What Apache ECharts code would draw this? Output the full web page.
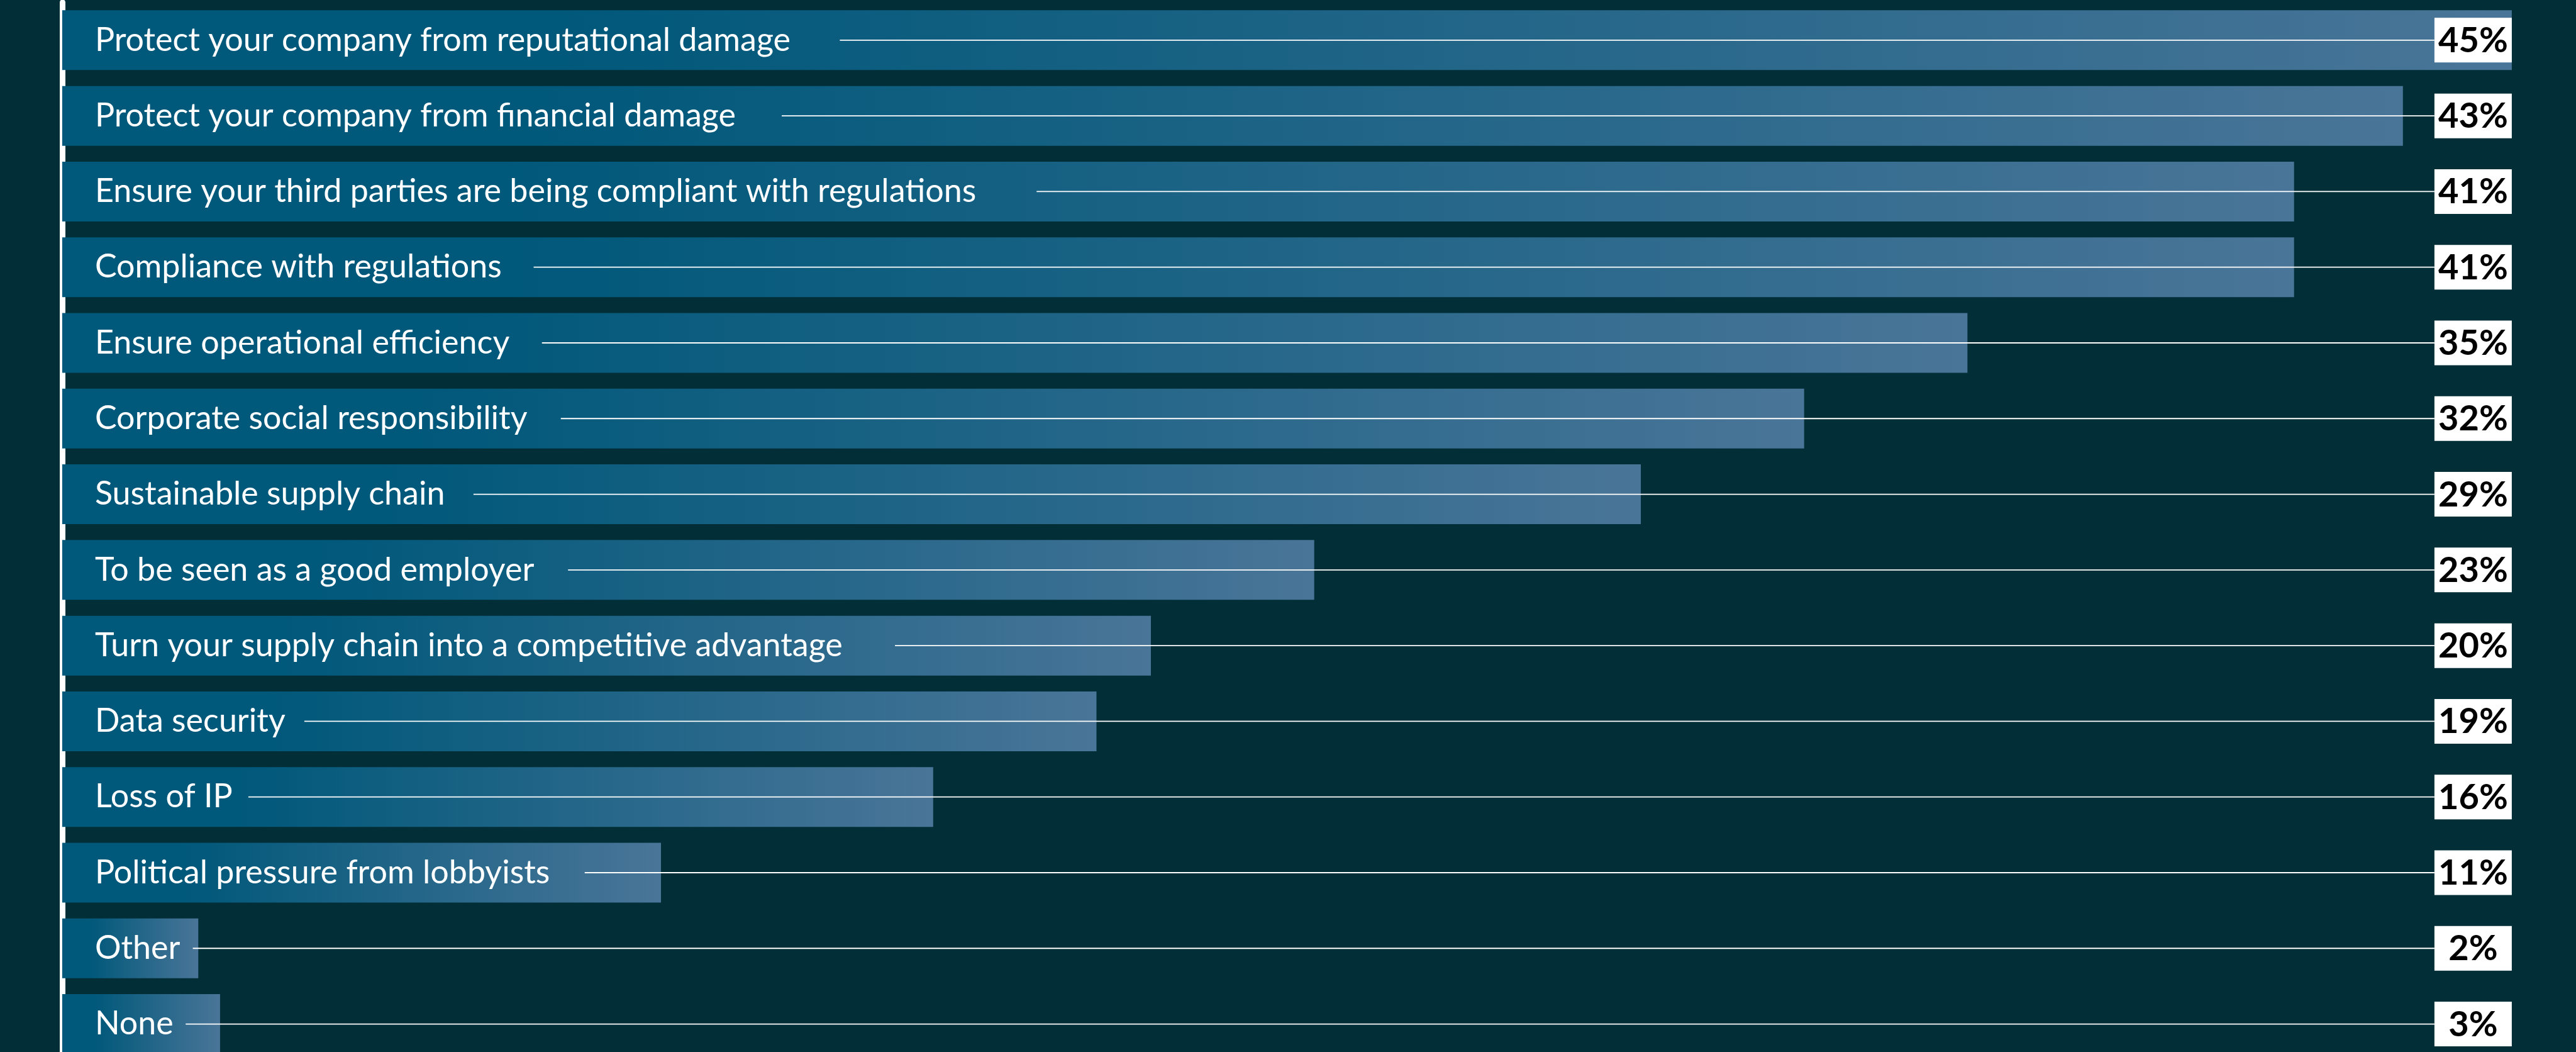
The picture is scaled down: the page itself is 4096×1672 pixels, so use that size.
<!DOCTYPE html>
<html>
<head>
<meta charset="utf-8">
<script src="https://cdn.jsdelivr.net/npm/echarts@6/dist/echarts.min.js"></script>
<style>
  html, body { margin: 0; padding: 0; background: #022e37; }
  #main { width: 4096px; height: 1672px; }
</style>
</head>
<body>
<div id="main"></div>
<script>
// Survey answers, top to bottom
var categories = [
    'Protect your company from reputational damage',
    'Protect your company from financial damage',
    'Ensure your third parties are being compliant with regulations',
    'Compliance with regulations',
    'Ensure operational efficiency',
    'Corporate social responsibility',
    'Sustainable supply chain',
    'To be seen as a good employer',
    'Turn your supply chain into a competitive advantage',
    'Data security',
    'Loss of IP',
    'Political pressure from lobbyists',
    'Other',
    'None'
];
// bar lengths (the small ones are not whole numbers)
var shares = [45, 43, 41, 41, 35, 32, 29, 23, 20, 19, 16, 11, 2.5, 2.9];
// printed values in the white boxes
var shareLabels = ['45%', '43%', '41%', '41%', '35%', '32%', '29%', '23%', '20%', '19%', '16%', '11%', '2%', '3%'];
var xMax = 45;

var chartDom = document.getElementById('main');
var myChart = echarts.init(chartDom);
var option;

const nameFont = '52px Lato';
const nameGap = 52;      // text starts this far into the bar
const boxW = 123;
const boxH = 71;

// measure the category text so the leader line starts just after it
var measureCtx = document.createElement('canvas').getContext('2d');
measureCtx.font = nameFont;
function textWidth(s) {
    return measureCtx.measureText(s).width;
}

function renderLeader(params, api) {
    var i = params.dataIndex;
    var zero = api.coord([0, i]);
    var end = api.coord([xMax, i]);
    var y = end[1];
    var x1 = zero[0] + nameGap + textWidth(categories[i]) * 1.06 + 12;
    return {
        type: 'group',
        children: [
            {
                type: 'line',
                shape: { x1: x1, y1: y, x2: end[0] - boxW, y2: y },
                style: { stroke: '#ffffff', lineWidth: 1.8 }
            },
            {
                type: 'rect',
                shape: { x: end[0] - boxW, y: y - boxH / 2, width: boxW, height: boxH },
                style: { fill: '#ffffff' }
            },
            {
                type: 'text',
                x: end[0] - boxW / 2,
                y: y + 1,
                style: {
                    text: shareLabels[i],
                    fill: '#000000',
                    font: 'bold 56px Lato',
                    align: 'center',
                    verticalAlign: 'middle'
                }
            }
        ]
    };
}

option = {
    backgroundColor: '#022e37',
    animation: false,
    grid: {
        left: 98.9,
        top: 3.7,
        width: 3895,
        height: 1684,
        outerBoundsMode: 'none'   // last row runs past the bottom edge
    },
    xAxis: {
        type: 'value',
        min: 0,
        max: xMax,
        show: false
    },
    yAxis: {
        type: 'category',
        data: categories,
        inverse: true,
        offset: 5.4,
        axisLine: { show: true, lineStyle: { color: '#ffffff', width: 9 } },
        axisTick: { show: false },
        axisLabel: { show: false }
    },
    series: [
        {
            type: 'bar',
            data: shares,
            barWidth: 95,
            itemStyle: {
                color: new echarts.graphic.LinearGradient(0, 0, 1, 0, [
                    { offset: 0, color: '#00587a' },
                    { offset: 0.2, color: '#00587a' },
                    { offset: 1, color: '#497598' }
                ])
            },
            label: {
                show: true,
                position: 'insideLeft',
                distance: nameGap,
                formatter: '{b}',
                color: '#ffffff',
                fontFamily: 'Lato',
                fontSize: 52
            }
        },
        {
            type: 'custom',
            renderItem: renderLeader,
            data: shares.map(function (v, i) { return [v, i]; }),
            z: 3
        }
    ]
};

myChart.setOption(option);
</script>
</body>
</html>
